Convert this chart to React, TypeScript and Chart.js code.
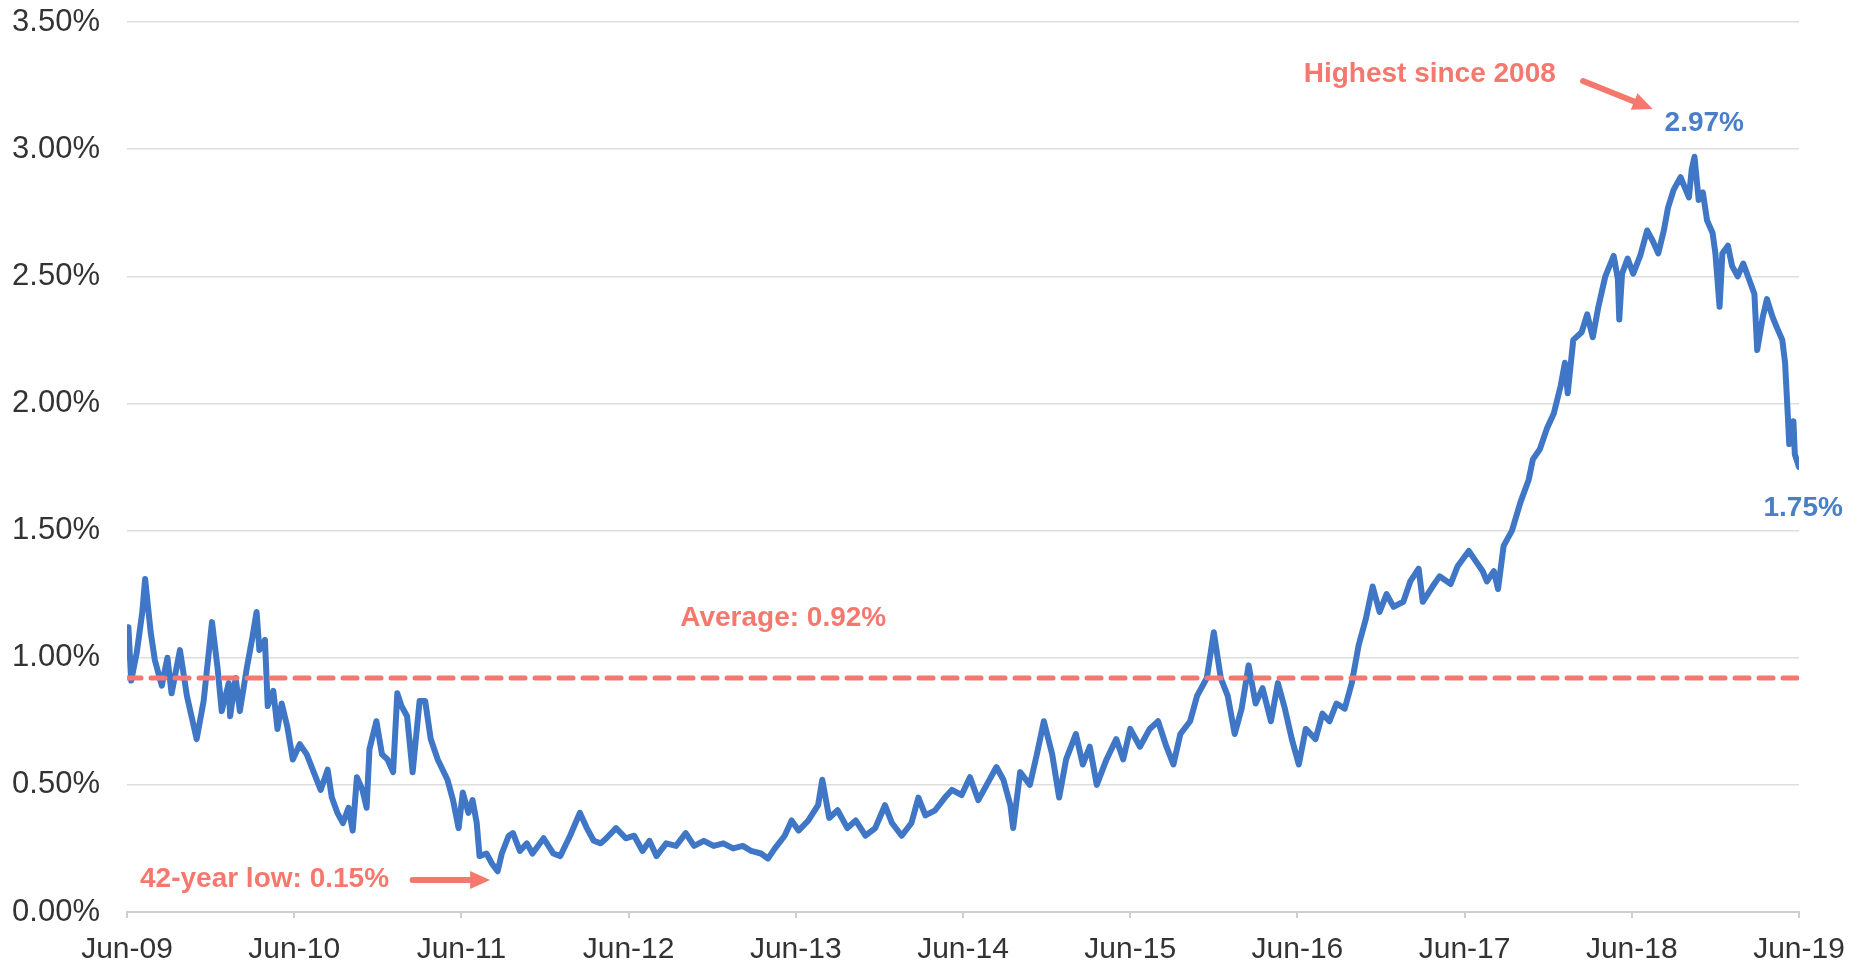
import React, { useEffect, useRef } from "react";
import { Chart, registerables } from "chart.js";

Chart.register(...registerables);

// x positions: months since Jun-2009; values: yield in %
const xTickLabels = ["Jun-09", "Jun-10", "Jun-11", "Jun-12", "Jun-13", "Jun-14", "Jun-15", "Jun-16", "Jun-17", "Jun-18", "Jun-19"];
const yTickValues = [0, 0.5, 1, 1.5, 2, 2.5, 3, 3.5];
const averageYield = 0.92;

const months2009to2012 = [0.1, 0.3, 0.7, 1.1, 1.3, 1.7, 2.0, 2.5, 2.9, 3.2, 3.8, 4.3, 5.0, 5.5, 6.1, 6.5, 6.8, 7.3, 7.4, 7.8, 8.1, 8.6, 9.0, 9.3, 9.5, 9.9, 10.1, 10.5, 10.8, 11.1, 11.5, 11.9, 12.4, 12.9, 13.4, 13.9, 14.4, 14.7, 15.1, 15.5, 15.9, 16.2, 16.5, 16.9, 17.2, 17.4, 17.9, 18.3, 18.7, 19.1, 19.4, 19.7, 20.1, 20.5, 21.0, 21.4, 21.8, 22.3, 23.0, 23.4, 23.8, 24.1, 24.5, 24.8, 25.1, 25.3, 25.8, 26.2, 26.6, 26.9, 27.4, 27.7, 28.2, 28.7, 29.1, 29.9, 30.6, 31.1, 31.8, 32.5, 33.0, 33.5, 34.0];
const yields2009to2012 = [1.12, 0.91, 1.02, 1.18, 1.31, 1.10, 0.99, 0.89, 1.00, 0.86, 1.03, 0.85, 0.68, 0.83, 1.14, 0.96, 0.79, 0.90, 0.77, 0.92, 0.79, 0.96, 1.08, 1.18, 1.03, 1.07, 0.81, 0.87, 0.72, 0.82, 0.73, 0.60, 0.66, 0.62, 0.55, 0.48, 0.56, 0.45, 0.39, 0.35, 0.41, 0.32, 0.53, 0.48, 0.41, 0.64, 0.75, 0.62, 0.60, 0.55, 0.86, 0.81, 0.77, 0.55, 0.83, 0.83, 0.68, 0.60, 0.52, 0.44, 0.33, 0.47, 0.39, 0.44, 0.35, 0.22, 0.23, 0.19, 0.16, 0.23, 0.30, 0.31, 0.24, 0.27, 0.23, 0.29, 0.23, 0.22, 0.30, 0.39, 0.33, 0.28, 0.27];

const months2012to2017 = [34.4, 35.1, 35.8, 36.4, 37.0, 37.5, 38.0, 38.7, 39.4, 40.1, 40.7, 41.4, 42.1, 42.8, 43.5, 44.2, 44.8, 45.5, 46.0, 46.5, 47.2, 47.7, 48.2, 48.9, 49.6, 49.9, 50.4, 51.0, 51.7, 52.3, 53.0, 53.7, 54.4, 54.9, 55.6, 56.3, 56.8, 57.3, 58.0, 58.7, 59.2, 59.9, 60.5, 61.1, 61.7, 62.4, 62.9, 63.4, 63.6, 64.1, 64.8, 65.3, 65.8, 66.4, 66.9, 67.4, 68.1, 68.6, 69.1, 69.6, 70.3, 71.0, 71.5, 72.0, 72.7, 73.4, 74.0, 74.6, 75.1, 75.6, 76.3, 76.8, 77.5, 78.0, 78.5, 79.0, 79.5, 80.0, 80.5, 81.0, 81.5, 82.1, 82.6, 83.1, 83.6, 84.1, 84.6, 85.3, 85.8, 86.3, 86.8, 87.4, 87.9, 88.4, 88.9, 89.4, 89.9, 90.4, 90.9, 91.6, 92.1, 92.7, 93.0, 93.7, 94.2];
const yields2012to2017 = [0.29, 0.33, 0.29, 0.30, 0.24, 0.28, 0.22, 0.27, 0.26, 0.31, 0.26, 0.28, 0.26, 0.27, 0.25, 0.26, 0.24, 0.23, 0.21, 0.25, 0.30, 0.36, 0.32, 0.36, 0.42, 0.52, 0.37, 0.40, 0.33, 0.36, 0.30, 0.33, 0.42, 0.35, 0.30, 0.35, 0.45, 0.38, 0.40, 0.45, 0.48, 0.46, 0.53, 0.44, 0.50, 0.57, 0.52, 0.42, 0.33, 0.55, 0.50, 0.62, 0.75, 0.62, 0.45, 0.60, 0.70, 0.58, 0.65, 0.50, 0.60, 0.68, 0.60, 0.72, 0.65, 0.72, 0.75, 0.65, 0.58, 0.70, 0.75, 0.85, 0.92, 1.10, 0.92, 0.85, 0.70, 0.80, 0.97, 0.82, 0.88, 0.75, 0.90, 0.80, 0.68, 0.58, 0.72, 0.68, 0.78, 0.75, 0.82, 0.80, 0.90, 1.05, 1.15, 1.28, 1.18, 1.25, 1.20, 1.22, 1.30, 1.35, 1.22, 1.28, 1.32];

const months2017to2019 = [95.0, 95.5, 96.3, 96.8, 97.3, 97.6, 98.1, 98.4, 98.8, 99.4, 100.0, 100.6, 100.9, 101.4, 101.9, 102.4, 102.9, 103.2, 103.4, 103.8, 104.4, 104.8, 105.2, 105.6, 106.1, 106.7, 107.0, 107.1, 107.3, 107.7, 108.1, 108.6, 109.1, 109.5, 109.9, 110.3, 110.6, 111.0, 111.5, 111.8, 112.1, 112.3, 112.5, 112.8, 113.1, 113.4, 113.8, 114.0, 114.3, 114.5, 114.9, 115.2, 115.6, 116.0, 116.4, 116.8, 117.0, 117.4, 117.7, 118.1, 118.4, 118.8, 119.0, 119.2, 119.3, 119.6, 119.7, 120.0];
const yields2017to2019 = [1.29, 1.36, 1.42, 1.38, 1.34, 1.30, 1.34, 1.27, 1.44, 1.50, 1.61, 1.70, 1.78, 1.82, 1.90, 1.96, 2.07, 2.16, 2.04, 2.25, 2.28, 2.35, 2.26, 2.38, 2.50, 2.58, 2.49, 2.33, 2.51, 2.57, 2.51, 2.58, 2.68, 2.64, 2.59, 2.68, 2.77, 2.84, 2.89, 2.85, 2.81, 2.92, 2.97, 2.80, 2.83, 2.72, 2.67, 2.59, 2.38, 2.59, 2.62, 2.54, 2.50, 2.55, 2.49, 2.43, 2.21, 2.34, 2.41, 2.34, 2.30, 2.25, 2.16, 1.95, 1.84, 1.93, 1.80, 1.75];

const SALMON = "#f5786e";
const BLUE_TEXT = "#4a7fc8";
const LINE_BLUE = "#3f77c6";
const FONT = "'Liberation Sans', Arial, sans-serif";

// annotation texts anchored on data coordinates (month, value)
const annotationTexts = [
  { text: "Highest since 2008", m: 93.5, v: 3.295, color: SALMON },
  { text: "2.97%", m: 113.2, v: 3.1, color: BLUE_TEXT },
  { text: "1.75%", m: 120.3, v: 1.589, color: BLUE_TEXT },
  { text: "Average: 0.92%", m: 47.1, v: 1.156, color: SALMON },
  { text: "42-year low: 0.15%", m: 9.87, v: 0.13, color: SALMON },
];
const annotationArrows = [
  { m1: 104.5, v1: 3.268, m2: 109.5, v2: 3.158 },
  { m1: 20.5, v1: 0.126, m2: 26.06, v2: 0.126 },
];

const annotationPlugin = {
  id: "annotations",
  afterDatasetsDraw(chart: any) {
    const { ctx, scales } = chart;
    const xs = scales.x;
    const ys = scales.y;
    ctx.save();
    ctx.font = `bold 28px ${FONT}`;
    ctx.textAlign = "center";
    ctx.textBaseline = "middle";
    for (const a of annotationTexts) {
      ctx.fillStyle = a.color;
      ctx.fillText(a.text, xs.getPixelForValue(a.m), ys.getPixelForValue(a.v));
    }
    for (const ar of annotationArrows) {
      const x1 = xs.getPixelForValue(ar.m1);
      const y1 = ys.getPixelForValue(ar.v1);
      const x2 = xs.getPixelForValue(ar.m2);
      const y2 = ys.getPixelForValue(ar.v2);
      const ang = Math.atan2(y2 - y1, x2 - x1);
      const headLen = 20;
      const headW = 9;
      const bx = x2 - headLen * Math.cos(ang);
      const by = y2 - headLen * Math.sin(ang);
      ctx.strokeStyle = SALMON;
      ctx.fillStyle = SALMON;
      ctx.lineWidth = 6;
      ctx.lineCap = "round";
      ctx.beginPath();
      ctx.moveTo(x1, y1);
      ctx.lineTo(bx, by);
      ctx.stroke();
      ctx.beginPath();
      ctx.moveTo(x2, y2);
      ctx.lineTo(bx + headW * Math.sin(ang), by - headW * Math.cos(ang));
      ctx.lineTo(bx - headW * Math.sin(ang), by + headW * Math.cos(ang));
      ctx.closePath();
      ctx.fill();
    }
    ctx.restore();
  },
};

export default function App() {
  const canvasRef = useRef<HTMLCanvasElement | null>(null);

  useEffect(() => {
    const canvas = canvasRef.current;
    if (!canvas) return;
    const months = [...months2009to2012, ...months2012to2017, ...months2017to2019];
    const yields = [...yields2009to2012, ...yields2012to2017, ...yields2017to2019];
    const seriesPoints = months.map((m, i) => ({ x: m, y: yields[i] }));
    const avgPoints = [
      { x: 0, y: averageYield },
      { x: 120, y: averageYield },
    ];

    const chart = new Chart(canvas, {
      type: "line",
      data: {
        datasets: [
          {
            label: "Average",
            data: avgPoints,
            borderColor: SALMON,
            borderWidth: 5,
            borderDash: [14, 10],
            borderCapStyle: "round",
            pointRadius: 0,
            order: 0,
          },
          {
            label: "Yield",
            data: seriesPoints,
            borderColor: LINE_BLUE,
            borderWidth: 6,
            borderJoinStyle: "round",
            borderCapStyle: "round",
            pointRadius: 0,
            tension: 0,
            order: 1,
          },
        ],
      },
      options: {
        animation: false,
        responsive: false,
        devicePixelRatio: 1,
        layout: { padding: { top: 22, right: 67, left: 0, bottom: 0 } },
        plugins: { legend: { display: false }, tooltip: { enabled: false } },
        scales: {
          x: {
            type: "linear",
            min: 0,
            max: 120,
            afterFit: (s: any) => {
              s.height = 54;
              s.paddingLeft = 0;
              s.paddingRight = 0;
            },
            afterBuildTicks: (s: any) => {
              s.ticks = xTickLabels.map((_, i) => ({ value: i * 12 }));
            },
            ticks: {
              autoSkip: false,
              maxRotation: 0,
              padding: 14,
              color: "#333333",
              font: { family: FONT, size: 30 },
              callback: (v: any) => xTickLabels[Math.round(Number(v) / 12)] ?? "",
            },
            grid: { drawOnChartArea: false, drawTicks: true, tickLength: 6, color: "#cfcfcf", lineWidth: 2 },
            border: { display: true, color: "#cfcfcf", width: 2 },
          },
          y: {
            min: 0,
            max: 3.5,
            afterFit: (s: any) => {
              s.width = 127;
              s.paddingTop = 0;
              s.paddingBottom = 0;
            },
            afterBuildTicks: (s: any) => {
              s.ticks = yTickValues.map((v) => ({ value: v }));
            },
            ticks: {
              padding: 27,
              color: "#333333",
              font: { family: FONT, size: 31 },
              callback: (v: any) => Number(v).toFixed(2) + "%",
            },
            grid: { drawTicks: false, color: "#dedede", lineWidth: 1.5 },
            border: { display: false },
          },
        },
      },
      plugins: [annotationPlugin],
    });
    return () => chart.destroy();
  }, []);

  return (
    <div style={{ position: "fixed", left: 0, top: 0, width: 1866, height: 966, background: "#ffffff" }}>
      <canvas ref={canvasRef} width={1866} height={966} style={{ display: "block" }} />
    </div>
  );
}
